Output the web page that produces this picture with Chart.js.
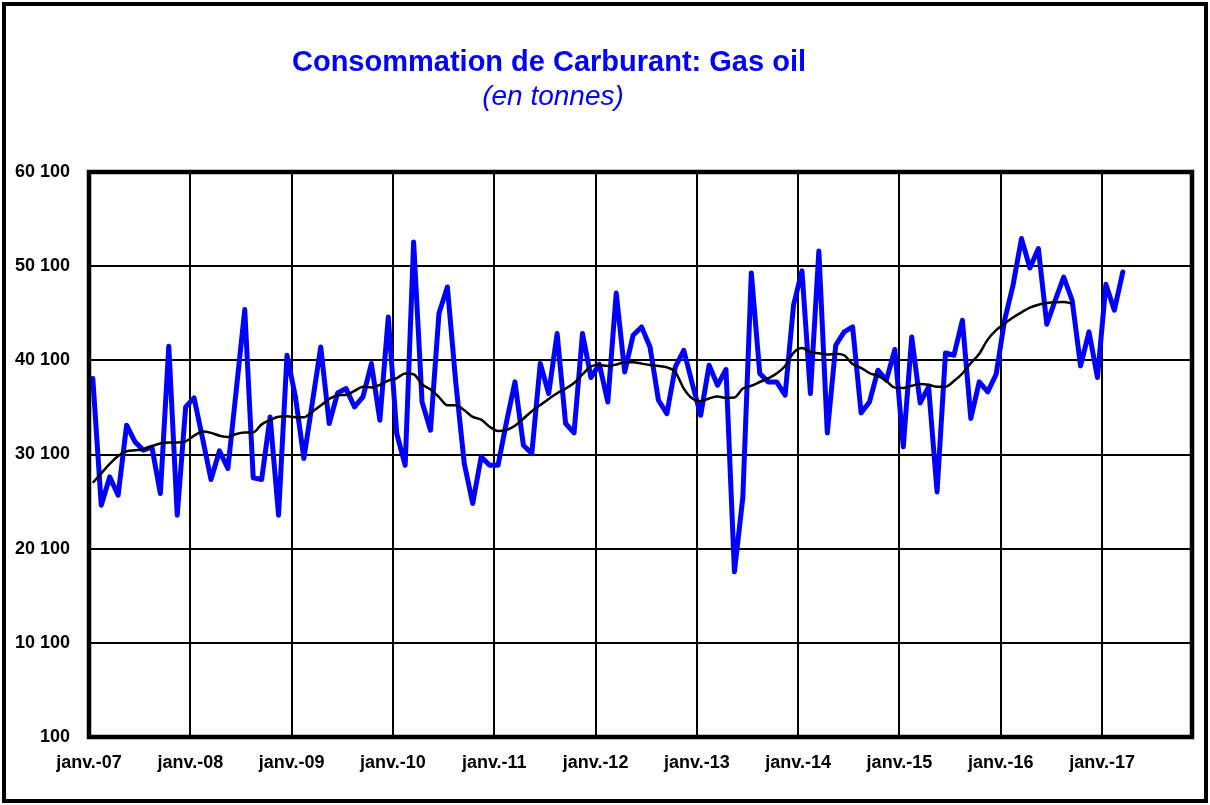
<!DOCTYPE html>
<html>
<head>
<meta charset="utf-8">
<script src="https://cdn.jsdelivr.net/npm/chart.js@4.4.1/dist/chart.umd.min.js"></script>
<style>
  html, body { margin: 0; padding: 0; background: #fff; }
  #wrap { position: relative; width: 1210px; height: 805px; }
  #c { position: absolute; left: 0; top: 0; }
  .t { position: absolute; left: 0; width: 1098px; text-align: center; color: #0000FF;
       font-family: "Liberation Sans", Arial, sans-serif; white-space: nowrap; }
  #title { top: 45px; font-size: 29px; font-weight: bold; }
  #sub { top: 80px; font-size: 28px; font-style: italic; left: 4px; }
</style>
</head>
<body>
<div id="wrap">
  <canvas id="c" width="1210" height="805"></canvas>
  <div class="t" id="title">Consommation de Carburant: Gas oil</div>
  <div class="t" id="sub">(en tonnes)</div>
</div>
<script>
// Monthly gas oil consumption (tonnes), janv. 2007 .. mars 2017
const gasOil = [
  38170, 24720, 27720, 25780, 33210, 31440, 30560, 30900, 25960, 41600, 23660, 35150,
  36110, 31800, 27450, 30480, 28610, 37000, 45490, 27620, 27450, 34090, 23660, 40640,
  36210, 29680, 35580, 41520, 33390, 36640, 37100, 35150, 36210, 39760, 33740, 44710,
  32330, 28960, 52670, 35680, 32680, 45070, 47890, 37670, 29140, 24900, 29850, 28960,
  28960, 33560, 37810, 31090, 30200, 39760, 36580, 42940, 33390, 32390, 42940, 38270,
  39690, 35680, 47260, 38870, 42760, 43650, 41520, 35860, 34450, 39400, 41170, 37640,
  34270, 39580, 37460, 39120, 17640, 25600, 49380, 38700, 37810, 37810, 36400, 45950,
  49600, 36580, 51710, 32390, 41700, 43120, 43650, 34520, 35680, 39050, 37990, 41250,
  30910, 42580, 35580, 37280, 26130, 40890, 40640, 44360, 33920, 37810, 36750, 38620,
  44360, 48070, 53030, 49910, 51970, 43930, 46480, 48950, 46480, 39510, 43120, 38270,
  48180, 45420, 49480
];
// Trend (moving average) curve
const trend = [
  27100, 28100, 29100, 29950, 30450, 30550, 30630, 30980, 31270, 31370, 31370, 31500,
  32100, 32550, 32400, 32100, 31950, 32280, 32430, 32450, 33300, 33750, 34100, 34150,
  34050, 34050, 34650, 35300, 36000, 36400, 36450, 36850, 37300, 37220, 37500, 37950,
  38200, 38700, 38630, 37550, 37000, 36200, 35330, 35330, 34800, 34090, 33810, 33050,
  32600, 32700, 33150, 33900, 34700, 35350, 36000, 36600, 37100, 37700, 38600, 39450,
  39600, 39500, 39650, 39900, 39900, 39750, 39600, 39500, 39350, 38870, 37100, 36050,
  35750, 36050, 36250, 36100, 36150, 37100, 37400, 37800, 38200, 38700, 39500, 40900,
  41400, 40990, 40850, 40710, 40800, 40640, 39700, 39300, 38750, 38450, 37900, 37200,
  37150, 37400, 37600, 37500, 37300, 37300, 37900, 38700, 39800, 40800, 42300, 43300,
  44000, 44650, 45200, 45700, 46000, 46190, 46280, 46300, 46130
];
const xTickLabels = ['janv.-07','janv.-08','janv.-09','janv.-10','janv.-11','janv.-12',
                     'janv.-13','janv.-14','janv.-15','janv.-16','janv.-17'];
const yMin = 100, yMax = 60100, yStep = 10000;
const axisEndMonths = 130.65;       // date axis ends late Nov 2017
const midMonth = 14 / 31;           // values dated on the 15th of each month

const toPts = arr => arr.map((v, i) => ({ x: i + midMonth, y: v }));
const fmt = v => {
  const th = Math.floor(v / 1000), r = v % 1000;
  return th > 0 ? th + ' ' + String(r).padStart(3, '0') : String(r);
};

const frames = {
  id: 'frames',
  afterDraw(chart) {
    const { ctx, chartArea: a } = chart;
    ctx.save();
    ctx.strokeStyle = '#000';
    ctx.lineWidth = 4.5;
    ctx.strokeRect(a.left, a.top, a.right - a.left, a.bottom - a.top);
    ctx.lineWidth = 4;
    ctx.strokeRect(4, 4, chart.width - 8, chart.height - 8);
    ctx.restore();
  }
};

const font = { family: '"Liberation Sans", Arial, sans-serif', weight: 'bold', size: 18 };

new Chart(document.getElementById('c'), {
  type: 'line',
  data: {
    datasets: [
      { data: toPts(gasOil), borderColor: '#0000FF', borderWidth: 5, pointRadius: 0,
        tension: 0, fill: false, order: 2, borderJoinStyle: 'round', borderCapStyle: 'round' },
      { data: toPts(trend), borderColor: '#000000', borderWidth: 2.5, pointRadius: 0,
        tension: 0.4, cubicInterpolationMode: 'monotone', fill: false, order: 1 }
    ]
  },
  plugins: [frames],
  options: {
    responsive: false,
    animation: false,
    events: [],
    layout: { padding: { top: 172, right: 18, left: 0, bottom: 0 } },
    plugins: { legend: { display: false }, tooltip: { enabled: false }, title: { display: false } },
    scales: {
      x: {
        type: 'linear', min: 0, max: axisEndMonths,
        afterBuildTicks: s => { s.ticks = xTickLabels.map((_, k) => ({ value: k * 12 })); },
        afterFit: s => { s.height = 68; },
        ticks: { color: '#000', font, padding: 15, maxRotation: 0, autoSkip: false,
                 callback: (v) => xTickLabels[Math.round(v / 12)] },
        grid: { color: '#000', lineWidth: 2, drawTicks: false },
        border: { display: false }
      },
      y: {
        min: yMin, max: yMax,
        afterBuildTicks: s => {
          const t = [];
          for (let v = yMin; v <= yMax; v += yStep) t.push({ value: v });
          s.ticks = t;
        },
        afterFit: s => { s.width = 89; },
        ticks: { color: '#000', font, padding: 19, callback: v => fmt(v) },
        grid: { color: '#000', lineWidth: 2, drawTicks: false },
        border: { display: false }
      }
    }
  }
});
</script>
</body>
</html>
